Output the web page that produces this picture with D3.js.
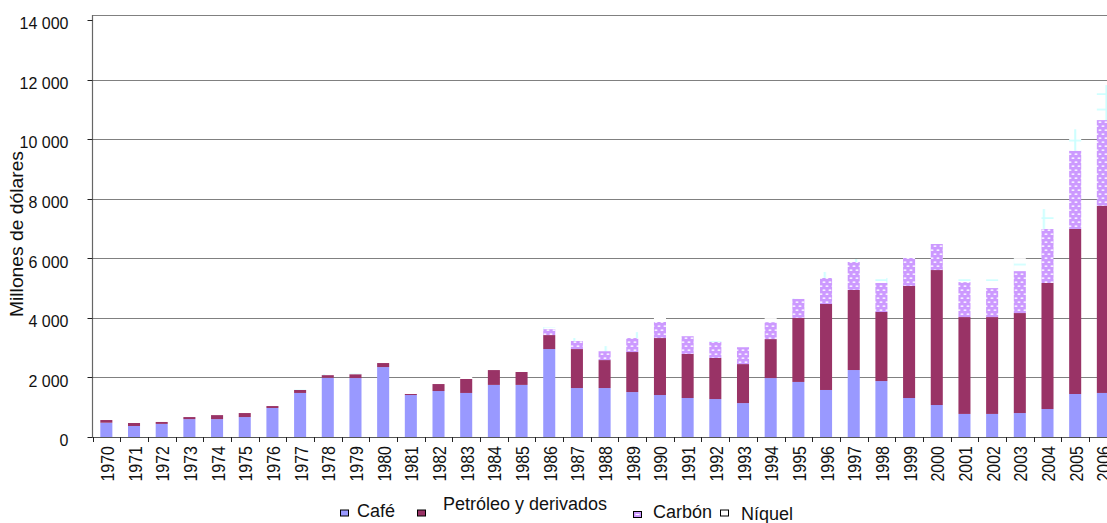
<!DOCTYPE html>
<html>
<head>
<meta charset="utf-8">
<script src="https://cdn.jsdelivr.net/npm/d3@7"></script>
<style>
  html, body { margin: 0; padding: 0; background: #fff; }
  svg { display: block; font-family: "Liberation Sans", Arial, sans-serif; }
</style>
</head>
<body>
<svg id="chart" width="1107" height="523"></svg>
<script>
// Colombian exports by product, millions of US dollars, 1970-2006
const years = ["1970","1971","1972","1973","1974","1975","1976","1977","1978","1979",
  "1980","1981","1982","1983","1984","1985","1986","1987","1988","1989",
  "1990","1991","1992","1993","1994","1995","1996","1997","1998","1999",
  "2000","2001","2002","2003","2004","2005","2006"];

const cafe = [480,370,440,600,600,670,975,1480,1990,1980,
  2350,1410,1545,1480,1750,1750,2955,1645,1645,1510,
  1410,1310,1275,1140,1980,1850,1580,2250,1880,1310,
  1075,775,775,805,940,1445,1480];

const petroleo = [90,100,65,70,135,135,65,100,90,130,
  135,35,235,470,500,435,470,1310,940,1345,
  1915,1480,1380,1310,1310,2150,2890,2690,2320,3765,
  4535,3255,3255,3360,4235,5545,6290];

const carbon = [0,0,0,0,0,0,0,0,0,0,
  0,0,0,0,0,0,200,270,300,470,
  540,600,540,570,570,640,875,940,975,940,
  875,1175,975,1410,1815,2630,2880];

const niquel = [0,0,0,0,0,0,0,20,30,20,
  0,20,30,70,100,135,70,100,170,200,
  180,200,70,135,135,20,200,100,170,170,
  235,270,300,435,670,720,1175];

const seriesKeys = ["cafe", "petroleo", "carbon", "niquel"];
const seriesNames = ["Café", "Petróleo y derivados", "Carbón", "Níquel"];

const yTicks = [0, 2000, 4000, 6000, 8000, 10000, 12000, 14000];
const yTickLabels = ["0", "2 000", "4 000", "6 000", "8 000", "10 000", "12 000", "14 000"];
const yTitle = "Millones de dólares";

// ---- layout ----
const W = 1107;
const plot = { left: 92.5, right: 1116.7, top: 15, bottom: 437 };
const yMax = 14180;

const svg = d3.select("#chart");

const x = d3.scaleBand()
  .domain(years)
  .range([plot.left, plot.right])
  .paddingInner(0.565)
  .paddingOuter(0.2825);

const y = d3.scaleLinear()
  .domain([0, yMax])
  .range([plot.bottom, plot.top]);

// ---- fill patterns ----
const defs = svg.append("defs");

// lilac with staggered small white dashes
const carbonPat = defs.append("pattern")
  .attr("id", "carbonFill")
  .attr("patternUnits", "userSpaceOnUse")
  .attr("width", 6).attr("height", 8);
carbonPat.append("rect").attr("width", 6).attr("height", 8).attr("fill", "#cc99ff");
[[0, 1], [3, 5], [-3, 5]].forEach(([px, py]) => {
  carbonPat.append("rect").attr("x", px + 0.3).attr("y", py + 0.3).attr("width", 3.4).attr("height", 1.8)
    .attr("rx", 0.9).attr("fill", "#e2c6ff");
  carbonPat.append("rect").attr("x", px + 0.9).attr("y", py + 0.7).attr("width", 2.2).attr("height", 1)
    .attr("fill", "#ffffff");
});

// white with a light cyan grid of lines
const niquelPat = defs.append("pattern")
  .attr("id", "niquelFill")
  .attr("patternUnits", "userSpaceOnUse")
  .attr("x", 0).attr("y", 0)
  .attr("width", 31.3).attr("height", 15.5);
niquelPat.append("rect").attr("width", 31.3).attr("height", 15.5).attr("fill", "#ffffff");
niquelPat.append("rect").attr("x", 10).attr("y", 0).attr("width", 2).attr("height", 15.5).attr("fill", "#ccffff");
niquelPat.append("rect").attr("x", 0).attr("y", 0.3).attr("width", 31.3).attr("height", 1.6).attr("fill", "#ccffff");

const fills = {
  cafe: "#9999ff",
  petroleo: "#993366",
  carbon: "url(#carbonFill)",
  niquel: "url(#niquelFill)"
};

// ---- gridlines ----
const grid = svg.append("g");
grid.selectAll("line")
  .data(yTicks.filter(v => v > 0 && v < 14000))
  .join("line")
  .attr("x1", plot.left).attr("x2", W)
  .attr("y1", d => Math.round(y(d)) + 0.5)
  .attr("y2", d => Math.round(y(d)) + 0.5)
  .attr("stroke", "#000")
  .attr("stroke-width", 1)
  .attr("stroke-dasharray", "1,1");
// top frame of the plot area
grid.append("line")
  .attr("x1", plot.left).attr("x2", W)
  .attr("y1", Math.round(y(yMax)) + 0.5).attr("y2", Math.round(y(yMax)) + 0.5)
  .attr("stroke", "#000").attr("stroke-width", 1).attr("stroke-dasharray", "1,1");

// ---- stacked bars ----
const rows = years.map((yr, i) => ({
  year: yr, cafe: cafe[i], petroleo: petroleo[i], carbon: carbon[i], niquel: niquel[i]
}));
const stacked = d3.stack().keys(seriesKeys)(rows);

svg.append("g")
  .selectAll("g")
  .data(stacked)
  .join("g")
  .attr("fill", d => fills[d.key])
  .selectAll("rect")
  .data(d => d)
  .join("rect")
  .attr("x", d => x(d.data.year))
  .attr("width", x.bandwidth())
  .attr("y", d => y(d[1]))
  .attr("height", d => Math.max(0, y(d[0]) - y(d[1])));

// ---- y axis ----
const yAxis = svg.append("g");
yAxis.append("line")
  .attr("x1", plot.left).attr("x2", plot.left)
  .attr("y1", plot.top).attr("y2", plot.bottom + 1)
  .attr("stroke", "#666").attr("stroke-width", 1.2);
yAxis.selectAll("line.tick")
  .data(yTicks)
  .join("line")
  .attr("class", "tick")
  .attr("x1", plot.left - 5).attr("x2", plot.left)
  .attr("y1", d => Math.round(y(d)) + 0.5).attr("y2", d => Math.round(y(d)) + 0.5)
  .attr("stroke", "#222").attr("stroke-width", 1);
yAxis.selectAll("text")
  .data(yTicks)
  .join("text")
  .attr("x", 68.5)
  .attr("y", d => y(d) + 3.5)
  .attr("dy", "0.35em")
  .attr("text-anchor", "end")
  .attr("font-size", 16)
  .attr("fill", "#111")
  .text((d, i) => yTickLabels[i]);

svg.append("text")
  .attr("transform", "translate(23,234) rotate(-90)")
  .attr("text-anchor", "middle")
  .attr("font-size", 18)
  .attr("textLength", 166)
  .attr("lengthAdjust", "spacingAndGlyphs")
  .attr("fill", "#111")
  .text(yTitle);

// ---- x axis ----
const xAxis = svg.append("g");
xAxis.append("line")
  .attr("x1", plot.left).attr("x2", W)
  .attr("y1", plot.bottom + 0.5).attr("y2", plot.bottom + 0.5)
  .attr("stroke", "#555").attr("stroke-width", 1.2);
xAxis.selectAll("line.tick")
  .data(d3.range(years.length + 1))
  .join("line")
  .attr("class", "tick")
  .attr("x1", i => Math.round(plot.left + i * x.step()) + 0.5)
  .attr("x2", i => Math.round(plot.left + i * x.step()) + 0.5)
  .attr("y1", plot.bottom).attr("y2", plot.bottom + 5)
  .attr("stroke", "#222").attr("stroke-width", 1);
xAxis.selectAll("text")
  .data(years)
  .join("text")
  .attr("transform", d => `translate(${x(d) + x.bandwidth() / 2 + 7.5},446) rotate(-90) scale(1,1.15)`)
  .attr("text-anchor", "end")
  .attr("font-size", 16)
  .attr("fill", "#111")
  .text(d => d);

// ---- legend ----
const legendLayout = [
  { sx: 340, sy: 509.5, tx: 357, ty: 516.5 },
  { sx: 417, sy: 509.5, tx: 443, ty: 510 },
  { sx: 633, sy: 511, tx: 653, ty: 517.5 },
  { sx: 720, sy: 509.5, tx: 741, ty: 520 }
];
const swatchFill = { cafe: "#9999ff", petroleo: "#993366", carbon: "#cc99ff", niquel: "#ffffff" };

const legend = svg.append("g");
seriesKeys.forEach((k, i) => {
  const L = legendLayout[i];
  legend.append("rect")
    .attr("x", L.sx + 0.5).attr("y", L.sy + 0.5)
    .attr("width", 8).attr("height", 6)
    .attr("fill", swatchFill[k])
    .attr("stroke", "#000").attr("stroke-width", 1);
  if (k === "carbon") {
    legend.append("rect")
      .attr("x", L.sx + 2.5).attr("y", L.sy + 3)
      .attr("width", 4).attr("height", 1)
      .attr("fill", "#fff");
  }
  legend.append("text")
    .attr("x", L.tx).attr("y", L.ty)
    .attr("font-size", 18)
    .attr("fill", "#111")
    .text(seriesNames[i]);
});
</script>
</body>
</html>
